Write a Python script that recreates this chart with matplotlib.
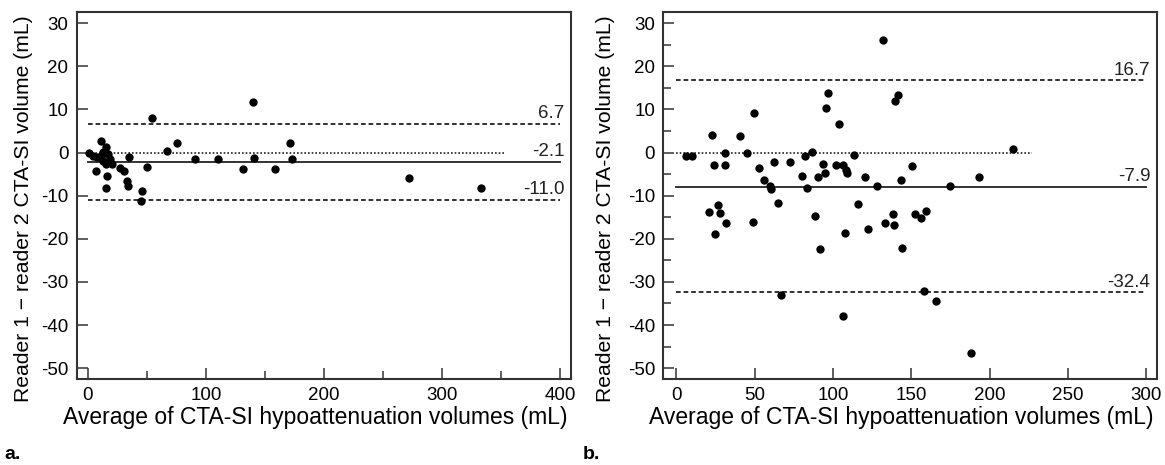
#!/usr/bin/env python3
"""Bland-Altman plots of reader 1 vs reader 2 CTA-SI hypoattenuation volumes."""

import matplotlib

matplotlib.use("Agg")
import matplotlib.pyplot as plt
from matplotlib.ticker import MultipleLocator

plt.rcParams["font.family"] = ["Liberation Sans", "DejaVu Sans"]
plt.rcParams["axes.unicode_minus"] = False

# panel a
a_x = [0.8, 4.7, 6.9, 7.8, 11.2, 11.0, 12.5, 13.2, 15.4, 15.7, 17.3, 18.8,
       20.4, 16.5, 15.1, 27.3, 30.7, 33.0, 33.8, 34.9, 45.6, 44.8, 50.4, 54.6,
       67.3, 75.3, 91.0, 110.0, 131.8, 139.6, 141.0, 158.4, 171.0, 173.0,
       272.0, 332.5]
a_y = [-0.2, -0.7, -4.3, -1.1, 2.6, -0.7, 0.1, -1.9, 1.2, -2.6, -0.3, -1.4,
       -2.6, -5.5, -8.2, -3.5, -4.3, -6.5, -7.8, -1.1, -8.9, -11.3, -3.4, 8.0,
       0.3, 2.3, -1.5, -1.4, -3.9, 11.6, -1.2, -3.8, 2.2, -1.4, -6.0, -8.2]
a_mean = -2.1
a_upper = 6.7
a_lower = -11.0
a_xmax = 400
a_zero_end = 352

# panel b
b_x = [6.2, 10.2, 21.0, 22.9, 23.8, 25.0, 26.4, 27.6, 31.2, 31.2, 31.7, 40.5,
       45.2, 48.8, 49.5, 52.6, 56.2, 59.8, 60.7, 62.6, 65.0, 66.7, 72.9, 80.0,
       81.9, 83.3, 86.9, 88.3, 90.2, 91.9, 93.6, 94.8, 95.5, 96.7, 101.9,
       103.6, 106.2, 106.7, 107.9, 108.3, 109.0, 113.3, 115.7, 120.2, 122.4,
       128.3, 132.1, 133.3, 138.3, 139.0, 139.5, 141.7, 143.6, 144.0, 150.7,
       152.4, 156.0, 158.3, 159.5, 165.7, 175.0, 193.1, 188.3, 215.0]
b_y = [-0.8, -0.9, -13.8, 4.0, -3.0, -18.8, -12.1, -14.0, 0.0, -2.8, -16.3,
       3.9, 0.0, -16.1, 9.2, -3.7, -6.3, -7.8, -8.4, -2.2, -11.6, -33.0, -2.1,
       -5.5, -0.7, -8.2, 0.2, -14.8, -5.7, -22.3, -2.7, -4.7, 10.3, 13.8, -3.0,
       6.6, -3.0, -38.0, -18.6, -4.0, -4.7, -0.5, -12.0, -5.7, -17.7, -7.8,
       26.1, -16.4, -14.2, -16.7, 12.0, 13.4, -6.4, -22.1, -3.1, -14.2, -15.1,
       -32.2, -13.6, -34.4, -7.8, -5.7, -46.5, 0.8]
b_mean = -7.9
b_upper = 16.7
b_lower = -32.4
b_xmax = 300
b_zero_end = 227

XLABEL = "Average of CTA-SI hypoattenuation volumes (mL)"
YLABEL = "Reader 1 \u2212 reader 2 CTA-SI volume (mL)"
FRAME = "#333333"


def bland_altman(ax, x, y, mean, upper, lower, xmax, zero_end, xlim, ylab_x):
    ax.plot([0, zero_end], [0, 0], color="#222222", lw=1.2,
            linestyle=(0, (1, 1.2)))
    ax.plot([0, xmax], [mean, mean], color="#333333", lw=1.4)
    for lvl in (upper, lower):
        ax.plot([0, xmax], [lvl, lvl], color="#222222", lw=1.3,
                linestyle=(0, (2.6, 1.6)))
    ax.scatter(x, y, s=36, color="black", zorder=3, linewidths=0)

    for lvl in (upper, mean, lower):
        ax.annotate(f"{lvl:.1f}", xy=(xmax, lvl),
                    xytext=(3, 4), textcoords="offset points",
                    ha="right", va="baseline", fontsize=13.5, color="#222222")

    ax.set_xlim(*xlim)
    ax.set_ylim(-52.5, 32.5)
    ax.yaxis.set_major_locator(MultipleLocator(10))
    ax.set_xlabel(XLABEL, fontsize=16.5)
    ax.xaxis.set_label_coords(0.483, -0.075)
    ax.set_ylabel(YLABEL, fontsize=15.2)
    ax.yaxis.set_label_coords(ylab_x, 0.465)
    ax.tick_params(direction="in", which="major", length=8, width=1.1,
                   labelsize=13.5, pad=6, color=FRAME)
    ax.tick_params(direction="in", which="minor", length=6, width=1.1,
                   color=FRAME)
    for sp in ax.spines.values():
        sp.set_color(FRAME)
        sp.set_linewidth(1.5)


def main():
    fig = plt.figure(figsize=(11.65, 4.65), dpi=100)
    ax_a = fig.add_axes([0.0658, 0.185, 0.4246, 0.7885])
    ax_b = fig.add_axes([0.5694, 0.185, 0.4235, 0.7885])

    bland_altman(ax_a, a_x, a_y, a_mean, a_upper, a_lower, a_xmax,
                 a_zero_end, (-9.4, 409.3), -0.089)
    ax_a.xaxis.set_major_locator(MultipleLocator(100))
    ax_a.xaxis.set_minor_locator(MultipleLocator(50))

    bland_altman(ax_b, b_x, b_y, b_mean, b_upper, b_lower, b_xmax,
                 b_zero_end, (-8.3, 306.8), -0.097)
    ax_b.xaxis.set_major_locator(MultipleLocator(50))
    ax_b.yaxis.set_minor_locator(MultipleLocator(5))

    panel_font = ["Liberation Sans Narrow", "Liberation Sans", "DejaVu Sans"]
    fig.text(0.004, 0.012, "a.", fontsize=14, fontweight="bold",
             family=panel_font)
    fig.text(0.5, 0.012, "b.", fontsize=14, fontweight="bold",
             family=panel_font)

    fig.savefig("out.png", dpi=100)
    plt.close(fig)


if __name__ == "__main__":
    main()
